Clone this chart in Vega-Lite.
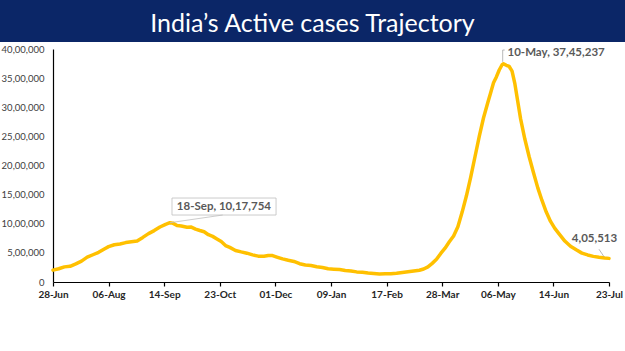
{
  "$schema": "https://vega.github.io/schema/vega-lite/v6.json",
  "width": 625,
  "height": 309,
  "autosize": {"type": "none"},
  "padding": {"top": 42, "left": 0, "right": 0, "bottom": 0},
  "background": "#0b2667",
  "title": {
    "text": "India’s Active cases Trajectory",
    "color": "white",
    "font": "Lato",
    "fontSize": 25,
    "fontWeight": "normal",
    "anchor": "middle",
    "frame": "group",
    "baseline": "alphabetic",
    "offset": -15
  },
  "config": {
    "view": {"fill": "white", "stroke": null},
    "font": "Lato"
  },
  "datasets": {
    "series": [
      {"date": "2020-06-28", "active": 203051},
      {"date": "2020-07-02", "active": 226947},
      {"date": "2020-07-06", "active": 259557},
      {"date": "2020-07-10", "active": 269789},
      {"date": "2020-07-14", "active": 311565},
      {"date": "2020-07-18", "active": 358692},
      {"date": "2020-07-22", "active": 426167},
      {"date": "2020-07-26", "active": 467882},
      {"date": "2020-07-30", "active": 509447},
      {"date": "2020-08-03", "active": 567730},
      {"date": "2020-08-06", "active": 607384},
      {"date": "2020-08-10", "active": 639929},
      {"date": "2020-08-14", "active": 653622},
      {"date": "2020-08-18", "active": 676514},
      {"date": "2020-08-22", "active": 692028},
      {"date": "2020-08-26", "active": 704348},
      {"date": "2020-08-30", "active": 765302},
      {"date": "2020-09-03", "active": 831124},
      {"date": "2020-09-07", "active": 882542},
      {"date": "2020-09-11", "active": 943480},
      {"date": "2020-09-15", "active": 990061},
      {"date": "2020-09-18", "active": 1017754},
      {"date": "2020-09-20", "active": 1010824},
      {"date": "2020-09-23", "active": 968377},
      {"date": "2020-09-26", "active": 960969},
      {"date": "2020-09-30", "active": 940705},
      {"date": "2020-10-03", "active": 942217},
      {"date": "2020-10-06", "active": 907883},
      {"date": "2020-10-09", "active": 883697},
      {"date": "2020-10-12", "active": 861853},
      {"date": "2020-10-15", "active": 812390},
      {"date": "2020-10-18", "active": 783311},
      {"date": "2020-10-21", "active": 740090},
      {"date": "2020-10-24", "active": 695509},
      {"date": "2020-10-27", "active": 625857},
      {"date": "2020-10-30", "active": 594386},
      {"date": "2020-11-03", "active": 541405},
      {"date": "2020-11-07", "active": 516632},
      {"date": "2020-11-11", "active": 494657},
      {"date": "2020-11-15", "active": 465478},
      {"date": "2020-11-19", "active": 443794},
      {"date": "2020-11-23", "active": 443486},
      {"date": "2020-11-26", "active": 455555},
      {"date": "2020-11-29", "active": 453956},
      {"date": "2020-12-02", "active": 428644},
      {"date": "2020-12-06", "active": 396729},
      {"date": "2020-12-10", "active": 372293},
      {"date": "2020-12-14", "active": 352586},
      {"date": "2020-12-18", "active": 313831},
      {"date": "2020-12-22", "active": 292518},
      {"date": "2020-12-26", "active": 281919},
      {"date": "2020-12-30", "active": 262272},
      {"date": "2021-01-03", "active": 250183},
      {"date": "2021-01-07", "active": 227546},
      {"date": "2021-01-11", "active": 220000},
      {"date": "2021-01-15", "active": 213603},
      {"date": "2021-01-19", "active": 197201},
      {"date": "2021-01-23", "active": 188688},
      {"date": "2021-01-27", "active": 173740},
      {"date": "2021-01-31", "active": 168235},
      {"date": "2021-02-04", "active": 155025},
      {"date": "2021-02-08", "active": 146907},
      {"date": "2021-02-12", "active": 136549},
      {"date": "2021-02-16", "active": 139542},
      {"date": "2021-02-20", "active": 143127},
      {"date": "2021-02-24", "active": 150055},
      {"date": "2021-02-28", "active": 164511},
      {"date": "2021-03-04", "active": 176319},
      {"date": "2021-03-08", "active": 188747},
      {"date": "2021-03-12", "active": 202022},
      {"date": "2021-03-15", "active": 223432},
      {"date": "2021-03-18", "active": 260000},
      {"date": "2021-03-21", "active": 320000},
      {"date": "2021-03-24", "active": 390000},
      {"date": "2021-03-27", "active": 490000},
      {"date": "2021-03-30", "active": 580000},
      {"date": "2021-04-02", "active": 690000},
      {"date": "2021-04-05", "active": 790000},
      {"date": "2021-04-08", "active": 950000},
      {"date": "2021-04-11", "active": 1200000},
      {"date": "2021-04-14", "active": 1480000},
      {"date": "2021-04-17", "active": 1800000},
      {"date": "2021-04-20", "active": 2150000},
      {"date": "2021-04-23", "active": 2500000},
      {"date": "2021-04-26", "active": 2820000},
      {"date": "2021-04-29", "active": 3080000},
      {"date": "2021-05-01", "active": 3250000},
      {"date": "2021-05-03", "active": 3420000},
      {"date": "2021-05-05", "active": 3520000},
      {"date": "2021-05-07", "active": 3640000},
      {"date": "2021-05-09", "active": 3730000},
      {"date": "2021-05-10", "active": 3745237},
      {"date": "2021-05-12", "active": 3720000},
      {"date": "2021-05-14", "active": 3700000},
      {"date": "2021-05-16", "active": 3620000},
      {"date": "2021-05-18", "active": 3400000},
      {"date": "2021-05-20", "active": 3100000},
      {"date": "2021-05-22", "active": 2800000},
      {"date": "2021-05-25", "active": 2450000},
      {"date": "2021-05-28", "active": 2150000},
      {"date": "2021-05-31", "active": 1880000},
      {"date": "2021-06-03", "active": 1620000},
      {"date": "2021-06-06", "active": 1400000},
      {"date": "2021-06-09", "active": 1200000},
      {"date": "2021-06-12", "active": 1040000},
      {"date": "2021-06-15", "active": 920000},
      {"date": "2021-06-18", "active": 826740},
      {"date": "2021-06-22", "active": 702887},
      {"date": "2021-06-26", "active": 612868},
      {"date": "2021-06-30", "active": 552659},
      {"date": "2021-07-04", "active": 495533},
      {"date": "2021-07-08", "active": 464357},
      {"date": "2021-07-12", "active": 440000},
      {"date": "2021-07-16", "active": 424025},
      {"date": "2021-07-20", "active": 411000},
      {"date": "2021-07-23", "active": 405513}
    ],
    "notes": [
      {"id": "sep", "date": "2020-09-18", "active": 1017754, "label": "18-Sep,  10,17,754"},
      {"id": "may", "date": "2021-05-10", "active": 3745237, "label": "10-May,  37,45,237"},
      {"id": "jul", "date": "2021-07-23", "active": 405513, "label": "4,05,513"}
    ]
  },
  "encoding": {
    "x": {
      "field": "date",
      "type": "temporal",
      "scale": {
        "type": "utc",
        "domain": [
          {"year": 2020, "month": 6, "date": 28, "utc": true},
          {"year": 2021, "month": 7, "date": 23, "utc": true}
        ],
        "range": [53, 609],
        "nice": false
      },
      "axis": {
        "title": null,
        "orient": "bottom",
        "offset": -69,
        "grid": false,
        "format": "%d-%b",
        "values": [
          {"year": 2020, "month": 6, "date": 28, "utc": true},
          {"year": 2020, "month": 8, "date": 6, "utc": true},
          {"year": 2020, "month": 9, "date": 14, "utc": true},
          {"year": 2020, "month": 10, "date": 23, "utc": true},
          {"year": 2020, "month": 12, "date": 1, "utc": true},
          {"year": 2021, "month": 1, "date": 9, "utc": true},
          {"year": 2021, "month": 2, "date": 17, "utc": true},
          {"year": 2021, "month": 3, "date": 28, "utc": true},
          {"year": 2021, "month": 5, "date": 6, "utc": true},
          {"year": 2021, "month": 6, "date": 14, "utc": true},
          {"year": 2021, "month": 7, "date": 23, "utc": true}
        ],
        "labelFont": "Lato",
        "labelFontSize": 10,
        "labelFontWeight": "bold",
        "labelColor": "#262626",
        "labelPadding": 3,
        "labelFlush": false,
        "labelOverlap": false,
        "domainColor": "#000000",
        "domainWidth": 1.2,
        "tickColor": "#000000",
        "tickSize": 4,
        "tickWidth": 1.2
      }
    },
    "y": {
      "field": "active",
      "type": "quantitative",
      "scale": {"domain": [0, 4000000], "range": [240, 7], "nice": false, "zero": true},
      "axis": {
        "title": null,
        "orient": "left",
        "offset": -53,
        "grid": false,
        "ticks": false,
        "values": [0, 500000, 1000000, 1500000, 2000000, 2500000, 3000000, 3500000, 4000000],
        "labelExpr": "datum.value == 0 ? '0' : format(datum.value / 100000, 'd') + ',00,000'",
        "labelFont": "Lato",
        "labelFontSize": 9.5,
        "labelColor": "#404040",
        "labelPadding": 9,
        "labelFlush": false,
        "labelOverlap": false,
        "domainColor": "#000000",
        "domainWidth": 1.2
      }
    }
  },
  "layer": [
    {
      "data": {"name": "series"},
      "mark": {"type": "line", "color": "#FFC000", "strokeWidth": 3.5, "strokeJoin": "round", "strokeCap": "round"}
    },
    {
      "data": {"name": "notes"},
      "transform": [{"filter": "datum.id == 'sep'"}],
      "mark": {
        "type": "point",
        "shape": "M0,0 L0.48,-0.07 M0.019,-0.07 L0.965,-0.07 L0.965,-0.2245 L0.019,-0.2245 Z",
        "size": 48400,
        "filled": true,
        "fill": "white",
        "stroke": "#bfbfbf",
        "strokeWidth": 0.8,
        "opacity": 1
      }
    },
    {
      "data": {"name": "notes"},
      "transform": [{"filter": "datum.id == 'may'"}],
      "mark": {
        "type": "point",
        "shape": "M-0.04,-0.1 L-0.04,-0.69 L0.06,-0.69",
        "size": 1600,
        "filled": false,
        "stroke": "#a6a6a6",
        "strokeWidth": 0.8,
        "opacity": 1
      }
    },
    {
      "data": {"name": "notes"},
      "transform": [{"filter": "datum.id == 'jul'"}],
      "mark": {
        "type": "point",
        "shape": "M-0.5,-0.455 L-0.25,-0.085",
        "size": 1600,
        "filled": false,
        "stroke": "#a6a6a6",
        "strokeWidth": 0.8,
        "opacity": 1
      }
    },
    {
      "data": {"name": "notes"},
      "transform": [{"filter": "datum.id == 'sep'"}],
      "mark": {"type": "text", "align": "center", "baseline": "middle", "dx": 54, "dy": -16, "font": "Lato", "fontSize": 11.5, "fontWeight": "bold", "color": "#595959"},
      "encoding": {"text": {"field": "label"}}
    },
    {
      "data": {"name": "notes"},
      "transform": [{"filter": "datum.id == 'may'"}],
      "mark": {"type": "text", "align": "left", "baseline": "middle", "dx": 4, "dy": -11, "font": "Lato", "fontSize": 11.5, "fontWeight": "bold", "color": "#595959"},
      "encoding": {"text": {"field": "label"}}
    },
    {
      "data": {"name": "notes"},
      "transform": [{"filter": "datum.id == 'jul'"}],
      "mark": {"type": "text", "align": "center", "baseline": "middle", "dx": -14.5, "dy": -19, "font": "Lato", "fontSize": 11.5, "fontWeight": "bold", "color": "#595959"},
      "encoding": {"text": {"field": "label"}}
    }
  ]
}
